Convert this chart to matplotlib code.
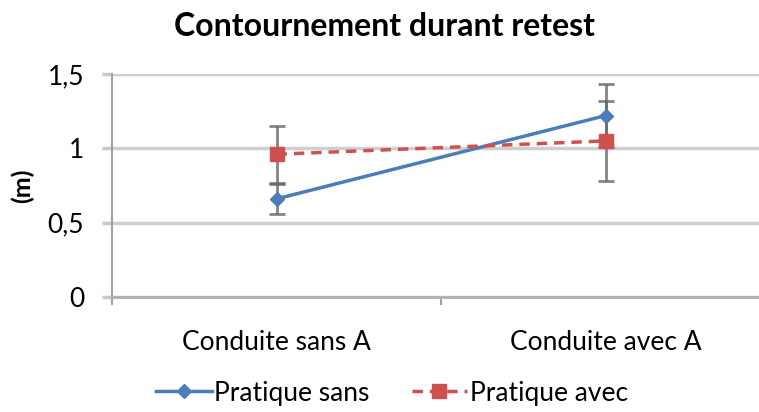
import matplotlib.pyplot as plt
import numpy as np

plt.rcParams['font.family'] = ['Lato', 'DejaVu Sans']

categories = ['Conduite sans A', 'Conduite avec A']
pratique_sans = [0.66, 1.22]
pratique_sans_err = [0.10, 0.21]
pratique_avec = [0.96, 1.05]
pratique_avec_err = [0.19, 0.27]
yticks = [0, 0.5, 1, 1.5]
ytick_labels = ['0', '0,5', '1', '1,5']

fig = plt.figure(figsize=(7.59, 4.12), dpi=100)
ax = fig.add_axes([112 / 759, 1 - 297 / 412, (770 - 112) / 759, (297 - 74) / 412])

x = np.arange(len(categories))

ax.errorbar(x, pratique_sans, yerr=pratique_sans_err, fmt='none',
            ecolor='#666666', elinewidth=2, capsize=6, capthick=2, alpha=0.8, zorder=3)
ax.errorbar(x, pratique_avec, yerr=pratique_avec_err, fmt='none',
            ecolor='#666666', elinewidth=2, capsize=6, capthick=2, alpha=0.8, zorder=3)

ax.plot(x, pratique_sans, color='#4A7EBB', linewidth=2.5, marker='D',
        markersize=7, label='Pratique sans', zorder=4)
ax.plot(x, pratique_avec, color='#D0504D', linewidth=2.5, linestyle=(0, (3, 2)),
        marker='s', markersize=10, label='Pratique avec', zorder=4)

ax.set_xlim(-0.5, 1.5)
ax.set_ylim(0, 1.5)
ax.set_yticks(yticks)
ax.set_yticklabels(ytick_labels, fontsize=19)
ax.set_xticks(x)
ax.set_xticklabels(categories, fontsize=19)
ax.set_xticks([-0.5, 0.5, 1.5], minor=True)
ax.tick_params(axis='x', which='major', length=0, pad=24)
ax.tick_params(axis='x', which='minor', length=6, color='#A0A0A0', width=1.5)
ax.tick_params(axis='y', length=7, color='#C8C8C8', width=2.5, pad=13, direction='out')

ax.grid(axis='y', color='#CFCFCF', linewidth=2.5, zorder=0)
ax.set_axisbelow(True)
for side in ['top', 'right']:
    ax.spines[side].set_visible(False)
ax.spines['left'].set_color('#A0A0A0')
ax.spines['left'].set_linewidth(1.5)
ax.spines['bottom'].set_color('#B0B0B0')
ax.spines['bottom'].set_linewidth(2)

ax.set_ylabel('(m)', fontsize=18, fontweight='bold', labelpad=10)
fig.text(384 / 759, 1 - 26 / 412, 'Contournement durant retest', fontsize=23,
         fontweight='bold', ha='center', va='center')

fig.legend(loc='center', bbox_to_anchor=(392 / 759, 1 - 393 / 412), ncol=2,
           frameon=False, fontsize=19, handlelength=2.1, columnspacing=1.6,
           handletextpad=0.1)

fig.savefig('out.png', dpi=100)
